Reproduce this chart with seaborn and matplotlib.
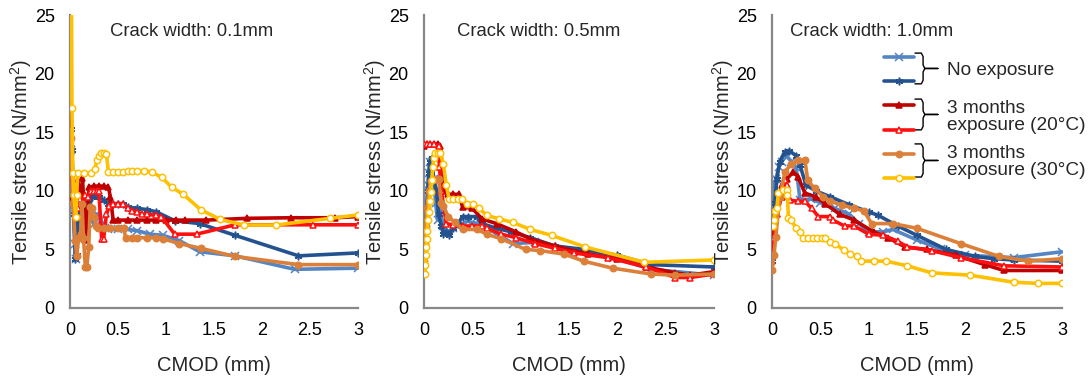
import matplotlib
matplotlib.use("Agg")
import matplotlib.pyplot as plt
import seaborn as sns
import numpy as np
import pandas as pd

# series: no exposure (A, B), 3 months 20C (A, B), 3 months 30C (A, B)
nombres = ["noexp_a", "noexp_b", "m20_a", "m20_b", "m30_a", "m30_b"]
colores = ["#5485C4", "#24528F", "#C00000", "#FF1010", "#DC8039", "#FFC000"]
marcadores = ["x", (6, 2, 0), "^", "^", "o", "o"]
relleno = [None, None, "fill", "white", "fill", "white"]

# ---- Crack width 0.1 mm ----
w01_x = {
    "noexp_a": [0, 0.01, 0.03, 0.05, 0.06, 0.08, 0.1, 0.12, 0.14, 0.16, 0.19, 0.22, 0.25, 0.28, 0.32, 0.36, 0.4, 0.5, 0.6, 0.7, 0.83, 0.97, 1.14, 1.35, 1.72, 2.34, 3.0],
    "noexp_b": [0, 0.01, 0.02, 0.04, 0.055, 0.07, 0.09, 0.11, 0.13, 0.15, 0.17, 0.2, 0.23, 0.26, 0.3, 0.35, 0.4, 0.45, 0.5, 0.55, 0.6, 0.7, 0.8, 0.9, 1.09, 1.35, 1.72, 2.38, 3.0],
    "m20_a": [0, 0.01, 0.03, 0.06, 0.09, 0.12, 0.13, 0.15, 0.16, 0.18, 0.2, 0.25, 0.3, 0.35, 0.4, 0.42, 0.45, 0.5, 0.6, 0.7, 0.8, 0.9, 1.0, 1.1, 1.2, 1.42, 1.84, 2.3, 2.76, 3.0],
    "m20_b": [0, 0.01, 0.03, 0.05, 0.08, 0.1, 0.13, 0.16, 0.19, 0.22, 0.25, 0.28, 0.3, 0.33, 0.35, 0.38, 0.41, 0.45, 0.5, 0.55, 0.6, 0.65, 0.7, 0.75, 0.8, 0.9, 0.95, 1.09, 1.32, 1.72, 2.53, 3.0],
    "m30_a": [0, 0.01, 0.03, 0.055, 0.07, 0.09, 0.11, 0.125, 0.14, 0.16, 0.175, 0.195, 0.21, 0.23, 0.25, 0.27, 0.29, 0.35, 0.42, 0.5, 0.56, 0.58, 0.65, 0.7, 0.8, 0.9, 0.97, 1.14, 1.36, 1.72, 2.38, 3.0],
    "m30_b": [0.015, 0.02, 0.03, 0.04, 0.06, 0.07, 0.08, 0.15, 0.22, 0.26, 0.28, 0.3, 0.32, 0.35, 0.38, 0.4, 0.45, 0.5, 0.55, 0.6, 0.65, 0.7, 0.77, 0.85, 0.955, 1.06, 1.18, 1.36, 1.56, 1.81, 2.15, 2.71, 3.0],
}
w01_y = {
    "noexp_a": [14.2, 13.5, 9.0, 5.5, 4.2, 6.5, 9.5, 8.5, 6.5, 8.5, 8.5, 7.5, 7.2, 8.0, 7.5, 6.8, 6.7, 6.7, 6.7, 6.6, 6.3, 6.2, 5.75, 4.8, 4.45, 3.3, 3.4],
    "noexp_b": [14.0, 15.3, 13.5, 8.0, 4.2, 4.5, 9.8, 8.5, 6.5, 9.0, 7.5, 8.5, 9.5, 9.6, 9.5, 9.2, 8.9, 8.9, 8.9, 8.9, 8.6, 8.5, 8.4, 8.2, 7.45, 7.2, 6.2, 4.45, 4.7],
    "m20_a": [17.5, 14.0, 9.5, 8.5, 10.5, 9.0, 11.1, 8.0, 5.8, 8.0, 10.3, 10.4, 10.4, 10.4, 10.3, 9.5, 7.5, 7.5, 7.5, 7.5, 7.5, 7.5, 7.5, 7.5, 7.5, 7.5, 7.65, 7.7, 7.7, 7.8],
    "m20_b": [14.0, 14.5, 11.0, 9.5, 8.5, 9.3, 9.0, 9.6, 9.5, 10.0, 10.0, 10.0, 10.0, 5.9, 5.9, 8.0, 8.7, 8.9, 8.9, 8.9, 8.5, 8.3, 8.2, 8.0, 8.0, 7.9, 7.8, 6.3, 6.3, 7.1, 7.1, 7.1],
    "m30_a": [15.1, 14.5, 9.0, 5.7, 4.4, 6.0, 6.3, 8.9, 6.0, 3.5, 3.5, 5.2, 8.6, 8.5, 7.8, 7.0, 6.8, 6.8, 6.8, 6.8, 6.8, 6.0, 6.0, 6.0, 6.0, 6.0, 5.9, 5.5, 5.1, 4.4, 3.7, 3.7],
    "m30_b": [27.0, 17.1, 11.5, 9.6, 7.8, 9.6, 11.5, 11.5, 11.5, 11.9, 12.6, 13.0, 13.2, 13.2, 13.1, 11.6, 11.6, 11.6, 11.6, 11.7, 11.7, 11.7, 11.7, 11.6, 11.15, 10.3, 9.7, 8.4, 7.57, 7.08, 7.08, 7.65, 7.94],
}

# ---- Crack width 0.5 mm ----
w05_x = {
    "noexp_a": [0, 0.01, 0.02, 0.03, 0.04, 0.05, 0.06, 0.08, 0.1, 0.12, 0.14, 0.16, 0.2, 0.25, 0.3, 0.35, 0.45, 0.55, 0.7, 0.92, 1.15, 1.55, 1.95, 2.35, 3.0],
    "noexp_b": [0, 0.01, 0.02, 0.03, 0.04, 0.05, 0.06, 0.08, 0.1, 0.13, 0.15, 0.18, 0.2, 0.23, 0.26, 0.3, 0.35, 0.4, 0.45, 0.55, 0.6, 0.75, 0.9, 1.1, 1.35, 1.65, 2.0, 2.35, 3.0],
    "m20_a": [0, 0.03, 0.06, 0.1, 0.14, 0.17, 0.2, 0.22, 0.25, 0.3, 0.36, 0.4, 0.5, 0.6, 0.75, 0.95, 1.1, 1.35, 1.7, 2.0, 2.3, 2.6, 2.75, 3.0],
    "m20_b": [0, 0.03, 0.06, 0.1, 0.15, 0.16, 0.18, 0.23, 0.3, 0.4, 0.5, 0.6, 0.65, 0.8, 0.95, 1.15, 1.35, 1.55, 1.9, 2.3, 2.6, 2.75, 3.0],
    "m30_a": [0, 0.01, 0.02, 0.03, 0.05, 0.07, 0.1, 0.15, 0.18, 0.2, 0.25, 0.32, 0.4, 0.55, 0.65, 0.8, 1.05, 1.2, 1.45, 1.65, 1.95, 2.35, 2.6, 3.0],
    "m30_b": [0.01, 0.015, 0.02, 0.025, 0.03, 0.035, 0.04, 0.05, 0.06, 0.07, 0.08, 0.09, 0.1, 0.11, 0.14, 0.17, 0.2, 0.23, 0.26, 0.3, 0.35, 0.39, 0.44, 0.51, 0.57, 0.65, 0.78, 0.92, 1.1, 1.32, 1.67, 2.28, 3.0],
}
w05_y = {
    "noexp_a": [4.5, 6.0, 7.5, 9.0, 10.5, 11.5, 12.5, 12.5, 11.0, 9.0, 7.5, 8.5, 7.0, 6.5, 6.8, 7.0, 7.4, 7.2, 6.6, 5.5, 5.6, 4.9, 4.3, 3.3, 2.8],
    "noexp_b": [4.5, 5.5, 7.0, 8.5, 10.0, 11.5, 12.5, 12.8, 11.0, 10.0, 8.0, 7.0, 6.3, 6.5, 6.2, 6.8, 7.2, 7.8, 7.8, 7.8, 7.2, 6.8, 6.5, 6.0, 5.3, 5.0, 4.5, 3.7, 3.5],
    "m20_a": [13.8, 14.0, 14.0, 14.0, 14.0, 13.8, 10.8, 10.0, 9.7, 9.7, 9.7, 8.6, 8.5, 7.6, 7.2, 6.5, 5.9, 5.3, 4.6, 4.2, 3.5, 3.0, 2.8, 3.1],
    "m20_b": [14.0, 14.0, 14.0, 14.0, 13.8, 12.0, 10.0, 7.2, 7.1, 7.0, 7.0, 7.0, 6.8, 6.3, 6.0, 5.5, 5.1, 4.7, 4.3, 3.5, 2.6, 2.6, 2.9],
    "m30_a": [4.0, 5.5, 7.0, 8.5, 10.0, 10.8, 11.0, 11.0, 9.0, 8.7, 7.8, 7.3, 6.7, 6.7, 6.3, 5.9, 5.0, 4.9, 4.6, 4.0, 3.4, 2.9, 2.8, 2.9],
    "m30_b": [2.9, 3.7, 4.5, 5.2, 5.9, 6.6, 7.5, 8.2, 9.1, 9.9, 10.9, 12.0, 12.8, 13.2, 13.2, 13.2, 12.3, 10.5, 9.3, 9.3, 9.3, 9.3, 8.9, 8.9, 8.5, 7.9, 7.6, 7.3, 6.7, 6.2, 5.2, 3.9, 4.1],
}

# ---- Crack width 1.0 mm ----
w10_x = {
    "noexp_a": [0, 0.01, 0.02, 0.04, 0.07, 0.1, 0.15, 0.2, 0.25, 0.29, 0.4, 0.5, 0.65, 0.8, 0.9, 1.0, 1.15, 1.25, 1.5, 1.75, 2.0, 2.5, 3.0],
    "noexp_b": [0, 0.01, 0.03, 0.05, 0.08, 0.13, 0.18, 0.25, 0.29, 0.35, 0.45, 0.6, 0.8, 1.0, 1.1, 1.3, 1.5, 1.8, 2.1, 2.3, 2.5, 3.0],
    "m20_a": [0, 0.02, 0.05, 0.1, 0.15, 0.22, 0.27, 0.34, 0.45, 0.55, 0.7, 0.85, 1.05, 1.2, 1.38, 1.6, 1.9, 2.2, 2.4, 3.0],
    "m20_b": [0, 0.02, 0.05, 0.1, 0.134, 0.15, 0.186, 0.27, 0.34, 0.41, 0.48, 0.6, 0.63, 0.75, 0.85, 1.0, 1.15, 1.3, 1.4, 1.65, 1.95, 2.4, 3.0],
    "m30_a": [0, 0.02, 0.04, 0.08, 0.134, 0.2, 0.27, 0.34, 0.37, 0.44, 0.53, 0.6, 0.72, 0.85, 0.95, 1.03, 1.25, 1.5, 1.95, 2.35, 2.65, 3.0],
    "m30_b": [0, 0.01, 0.02, 0.03, 0.05, 0.066, 0.117, 0.15, 0.16, 0.17, 0.2, 0.25, 0.29, 0.32, 0.37, 0.42, 0.47, 0.52, 0.55, 0.6, 0.65, 0.74, 0.81, 0.88, 0.92, 1.05, 1.18, 1.4, 1.65, 2.05, 2.5, 2.75, 3.0],
}
w10_y = {
    "noexp_a": [4.5, 6.5, 10.5, 11.0, 12.0, 12.5, 13.0, 12.5, 12.0, 9.2, 9.3, 9.0, 8.5, 8.0, 7.2, 6.5, 6.5, 6.7, 5.8, 5.0, 4.5, 4.3, 4.8],
    "noexp_b": [4.0, 6.0, 9.0, 11.0, 12.5, 13.3, 13.4, 13.0, 12.2, 10.5, 10.0, 9.5, 8.8, 8.2, 7.9, 7.0, 6.2, 5.0, 4.4, 4.2, 4.1, 4.0],
    "m20_a": [5.0, 6.5, 8.0, 10.5, 11.0, 11.6, 11.2, 9.8, 9.5, 8.9, 8.0, 7.5, 6.5, 6.0, 5.2, 5.0, 4.5, 3.7, 3.2, 3.2],
    "m20_b": [4.0, 6.0, 8.0, 9.5, 10.9, 10.5, 9.2, 9.1, 9.1, 8.5, 7.8, 7.8, 7.5, 7.0, 7.0, 6.3, 6.2, 5.7, 5.2, 4.9, 4.3, 3.6, 3.5],
    "m30_a": [3.2, 4.5, 6.1, 9.5, 11.6, 12.3, 12.6, 12.6, 10.9, 10.2, 9.5, 9.1, 8.8, 8.5, 8.3, 7.2, 7.2, 6.8, 5.5, 4.4, 4.0, 4.2],
    "m30_b": [7.0, 7.0, 7.5, 8.3, 8.5, 9.8, 10.1, 10.1, 9.6, 7.65, 7.5, 6.8, 6.5, 6.0, 6.0, 6.0, 6.0, 6.0, 6.0, 5.6, 5.5, 4.95, 4.65, 4.4, 4.0, 4.0, 4.0, 3.6, 3.0, 2.8, 2.2, 2.1, 2.1],
}

paneles = [
    ("Crack width: 0.1mm", w01_x, w01_y),
    ("Crack width: 0.5mm", w05_x, w05_y),
    ("Crack width: 1.0mm", w10_x, w10_y),
]
xticks = [0, 0.5, 1, 1.5, 2, 2.5, 3]
xtick_labels = ["0", "0.5", "1", "1.5", "2", "2.5", "3"]
yticks = [0, 5, 10, 15, 20, 25]

grupos = ["No exposure", "3 months\nexposure (20\u00b0C)", "3 months\nexposure (30\u00b0C)"]

sns.set_style("white")
plt.rcParams["font.family"] = ["Liberation Sans", "DejaVu Sans"]
plt.rcParams["mathtext.fontset"] = "custom"
plt.rcParams["mathtext.rm"] = "Liberation Sans"

fig = plt.figure(figsize=(10.92, 3.8), dpi=100)
gris = "#888888"
lefts = [70 / 1092, 424 / 1092, 772 / 1092]
widths = [288 / 1092, 290 / 1092, 290 / 1092]
ejes = []

for k, (titulo, dx, dy) in enumerate(paneles):
    ax = fig.add_axes([lefts[k], 1 - 308 / 380, widths[k], 293 / 380])
    ejes.append(ax)
    for i, s in enumerate(nombres):
        df = pd.DataFrame({"x": dx[s], "y": dy[s]})
        c = colores[i]
        if relleno[i] == "white":
            mfc = "white"
        else:
            mfc = c
        ms = 5.5 if i < 2 else 4.6
        sns.lineplot(data=df, x="x", y="y", ax=ax, sort=False, estimator=None,
                     color=c, lw=2.6, marker=marcadores[i], ms=ms,
                     mfc=mfc, mec=c, mew=1.1, zorder=2 + i)
    ax.set_xlim(0, 3)
    ax.set_ylim(0, 25)
    ax.set_xticks(xticks)
    ax.set_xticklabels(xtick_labels)
    ax.set_yticks(yticks)
    for lado in ["top", "right"]:
        ax.spines[lado].set_visible(False)
    for lado in ["left", "bottom"]:
        ax.spines[lado].set_color(gris)
        ax.spines[lado].set_linewidth(1.6)
    ax.tick_params(axis="both", direction="in", length=5, width=1.2, color=gris,
                   labelsize=13, labelcolor="black")
    ax.tick_params(axis="x", pad=10)
    ax.tick_params(axis="y", pad=11)
    ax.set_xlabel("CMOD (mm)", fontsize=14.5)
    ax.set_ylabel("Tensile stress (N/mm$^2$)", fontsize=14.5)
    ax.xaxis.set_label_coords(0.5, -0.165)
    ax.yaxis.set_label_coords(-0.125, 0.5)
    pos_titulo = [0.139, 0.113, 0.062][k]
    ax.text(pos_titulo, 0.942, titulo, transform=ax.transAxes, fontsize=13.3,
            ha="left", va="center")

# legend in the last panel, grouped with braces
ax = ejes[2]
handles = ax.get_lines()[:6]
ax.legend(handles, [" "] * 6, loc="upper left", bbox_to_anchor=(0.385, 0.876),
          frameon=False, handlelength=2.0, handletextpad=0.0, labelspacing=0.67,
          fontsize=11, numpoints=1, borderaxespad=0, borderpad=0)


def llave(ax, y0, y1, x0=0.493, x1=0.521, x2=0.572):
    ym = (y0 + y1) / 2
    r = 0.012
    xs = [x0, x1 - 0.006, x1, x1, x1 + 0.006, x2, x1 + 0.006, x1, x1, x1 - 0.006, x0]
    ys = [y1, y1, y1 - r, ym + r, ym, ym, ym, ym - r, y0 + r, y0, y0]
    ax.plot(xs, ys, transform=ax.transAxes, color="black", lw=1.0, clip_on=False)


llaves = [(0.765, 0.870), (0.608, 0.713), (0.447, 0.560)]
centros = [0.812, 0.652, 0.498]
for (a, b), yc, g in zip(llaves, centros, grupos):
    llave(ax, a, b)
    ax.text(0.605, yc, g, transform=ax.transAxes, fontsize=13.7, ha="left",
            va="center", linespacing=1.0)

fig.savefig("out.png", dpi=100)
